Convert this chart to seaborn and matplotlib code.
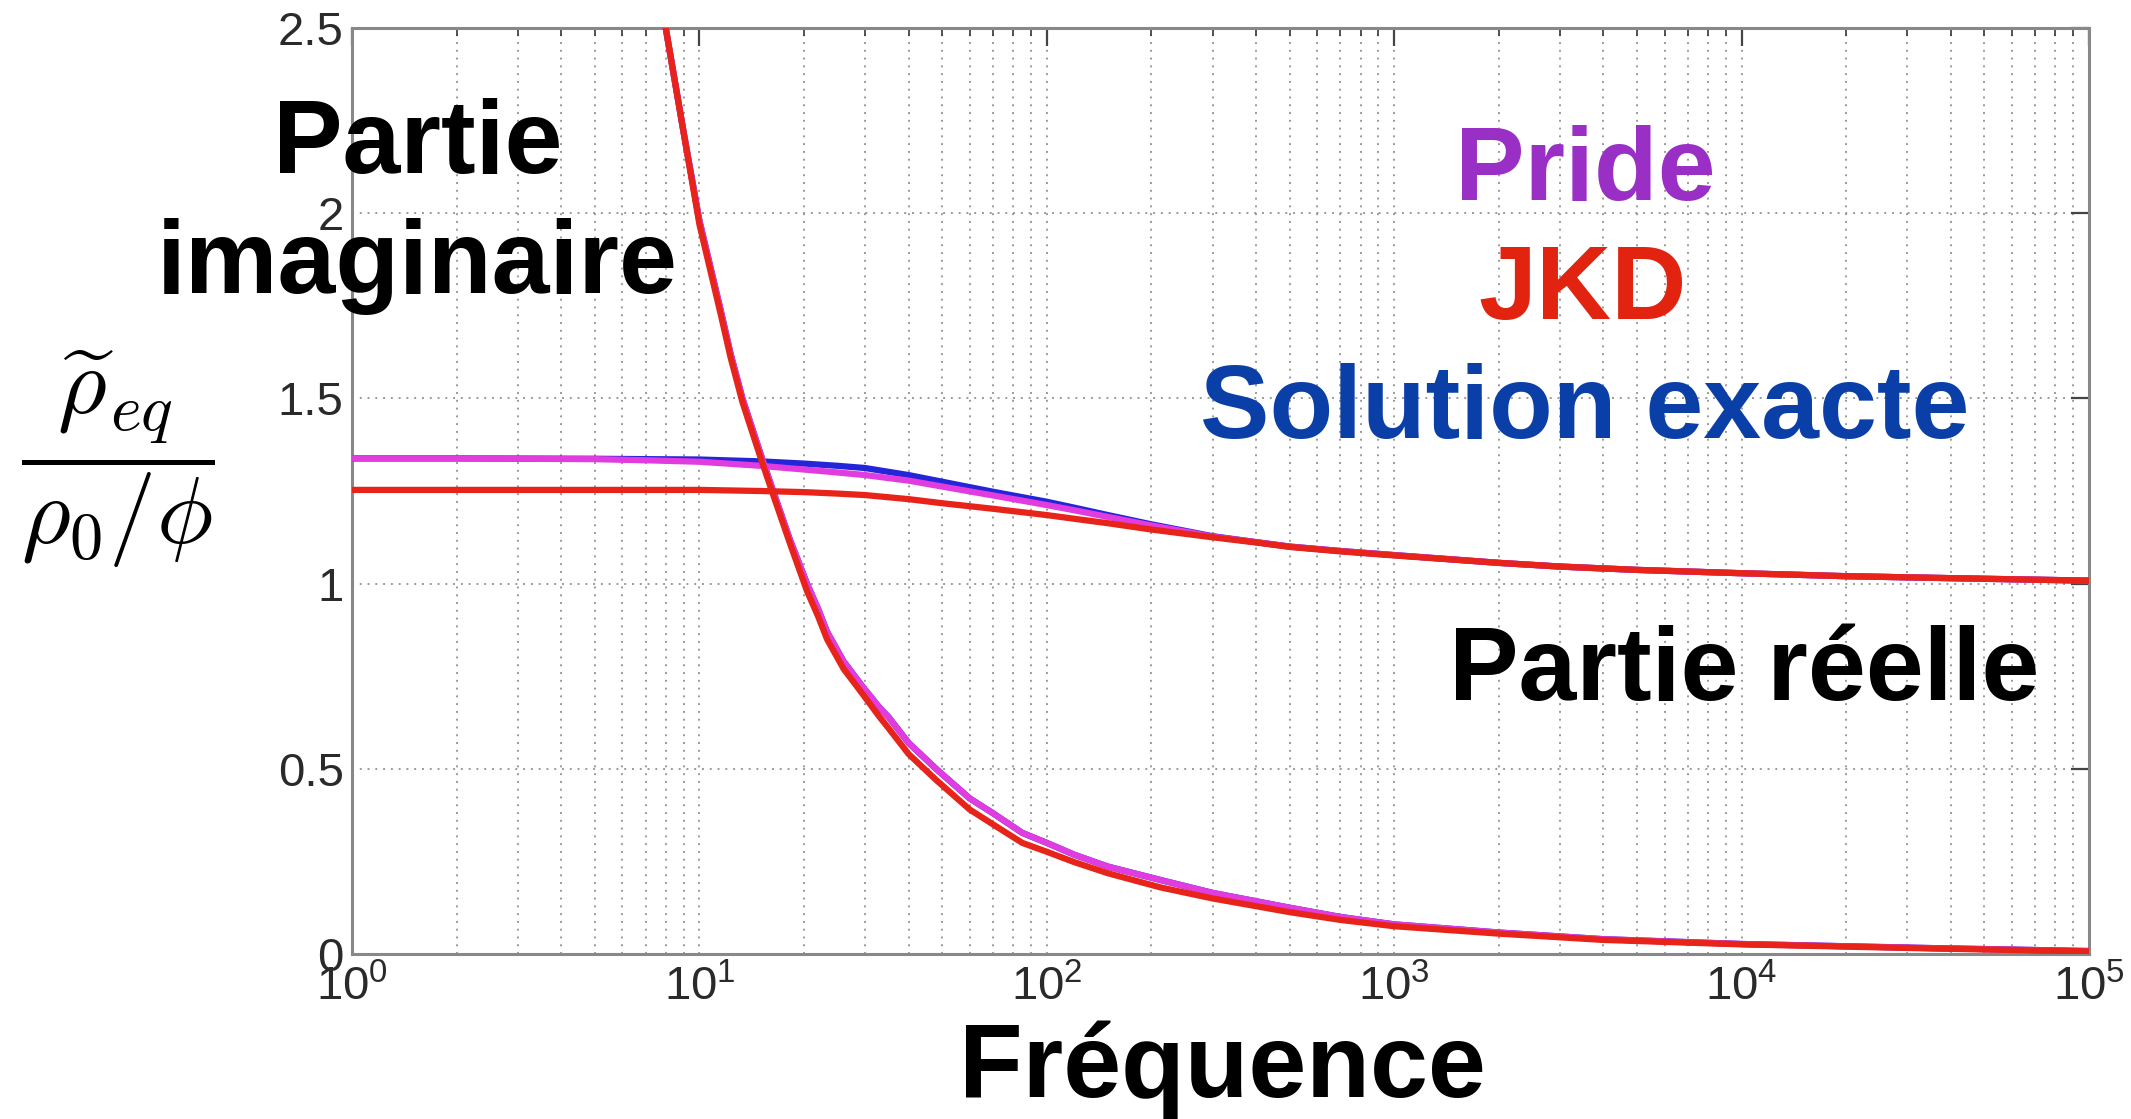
import numpy as np
import pandas as pd
import matplotlib
matplotlib.use("Agg")
import matplotlib.pyplot as plt
import seaborn as sns
from matplotlib.ticker import FixedLocator, FixedFormatter, LogLocator, NullFormatter

# ---------------- data ----------------
freq_re = [1, 2, 5, 7, 10, 15, 20, 25, 30, 40, 50, 70, 100, 120, 150, 200, 300, 400,
           500, 700, 1000, 2000, 3000, 5000, 1e4, 2e4, 5e4, 1e5]
re_exact = [1.338, 1.338, 1.337, 1.336, 1.335, 1.330, 1.324, 1.318, 1.312, 1.293,
            1.275, 1.248, 1.221, 1.205, 1.185, 1.160, 1.128, 1.112, 1.100, 1.088,
            1.077, 1.056, 1.046, 1.037, 1.028, 1.020, 1.013, 1.008]
re_pride = [1.338, 1.338, 1.336, 1.333, 1.329, 1.318, 1.308, 1.300, 1.293, 1.278,
            1.262, 1.238, 1.212, 1.198, 1.180, 1.157, 1.127, 1.112, 1.100, 1.088,
            1.077, 1.056, 1.046, 1.037, 1.028, 1.020, 1.013, 1.008]
re_jkd = [1.253, 1.253, 1.253, 1.253, 1.253, 1.250, 1.247, 1.243, 1.239, 1.228,
          1.217, 1.202, 1.185, 1.175, 1.163, 1.146, 1.125, 1.111, 1.099, 1.087,
          1.076, 1.056, 1.046, 1.037, 1.028, 1.020, 1.013, 1.008]

freq_im = [6, 7, 8, 9, 10, 11.5, 12.3, 13.3, 15, 16.3, 18.2, 20.4, 22, 23.3, 26,
           29.6, 33, 35, 40, 48, 60, 70, 85, 100, 120, 150, 212, 300, 500, 700,
           1000, 2000, 4000, 1e4, 3.5e4, 1e5]
im_exact = [3.40, 2.90, 2.50, 2.22, 1.98, 1.74, 1.62, 1.50, 1.35, 1.25, 1.12, 1.00,
            0.93, 0.87, 0.79, 0.72, 0.665, 0.64, 0.57, 0.50, 0.42, 0.38, 0.327,
            0.300, 0.268, 0.236, 0.200, 0.165, 0.125, 0.100, 0.080, 0.058, 0.040,
            0.027, 0.016, 0.008]
im_pride = [3.40, 2.90, 2.50, 2.22, 1.98, 1.74, 1.62, 1.50, 1.35, 1.25, 1.12, 1.00,
            0.93, 0.87, 0.79, 0.72, 0.665, 0.64, 0.57, 0.50, 0.42, 0.38, 0.327,
            0.300, 0.268, 0.236, 0.200, 0.165, 0.125, 0.100, 0.080, 0.058, 0.040,
            0.027, 0.016, 0.008]
im_jkd = [3.40, 2.90, 2.50, 2.22, 1.97, 1.73, 1.61, 1.49, 1.34, 1.24, 1.11, 0.98,
          0.91, 0.85, 0.77, 0.70, 0.64, 0.61, 0.54, 0.47, 0.39, 0.35, 0.300,
          0.276, 0.248, 0.218, 0.180, 0.150, 0.113, 0.092, 0.075, 0.055, 0.038,
          0.026, 0.015, 0.007]

y_ticks = [0, 0.5, 1, 1.5, 2, 2.5]
y_tick_labels = ["0", "0.5", "1", "1.5", "2", "2.5"]
x_ticks = [1, 10, 100, 1e3, 1e4, 1e5]
x_tick_labels = [r"$\mathregular{10^{%d}}$" % i for i in range(6)]

series_names = ["Solution exacte", "Pride", "JKD"]
series_colors = ["#2424d8", "#e03ce0", "#e8231a"]
text_colors = {"Pride": "#9a2fc6", "JKD": "#e1230f", "Solution exacte": "#0b3fa8"}

# ---------------- style ----------------
sns.set_style("white")
plt.rcParams["font.family"] = ["Liberation Sans", "DejaVu Sans"]
plt.rcParams["mathtext.fontset"] = "custom"
plt.rcParams["mathtext.rm"] = "Liberation Sans"
plt.rcParams["mathtext.it"] = "Liberation Sans:italic"

W, H = 2131, 1119
fig = plt.figure(figsize=(W / 100, H / 100), dpi=100)
ax = fig.add_axes([352 / W, 1 - 954 / H, (2089 - 352) / W, (954 - 28) / H])

df_re = pd.DataFrame({"f": freq_re * 3,
                      "v": re_exact + re_pride + re_jkd,
                      "model": sum([[n] * len(freq_re) for n in series_names], [])})
df_im = pd.DataFrame({"f": freq_im * 3,
                      "v": im_exact + im_pride + im_jkd,
                      "model": sum([[n] * len(freq_im) for n in series_names], [])})

for name, col in zip(series_names, series_colors):
    sns.lineplot(data=df_re[df_re.model == name], x="f", y="v", color=col,
                 linewidth=4.5, ax=ax, legend=False, zorder=3)
    sns.lineplot(data=df_im[df_im.model == name], x="f", y="v", color=col,
                 linewidth=4.5, ax=ax, legend=False, zorder=3)

ax.set_xscale("log")
ax.set_xlim(1, 1e5)
ax.set_ylim(0, 2.5)
ax.set_xlabel("")
ax.set_ylabel("")

ax.xaxis.set_major_locator(FixedLocator(x_ticks))
ax.xaxis.set_major_formatter(FixedFormatter(x_tick_labels))
ax.xaxis.set_minor_locator(LogLocator(base=10, subs=np.arange(2, 10), numticks=20))
ax.xaxis.set_minor_formatter(NullFormatter())
ax.yaxis.set_major_locator(FixedLocator(y_ticks))
ax.yaxis.set_major_formatter(FixedFormatter(y_tick_labels))

ax.tick_params(axis="both", which="major", direction="in", length=13, width=1.6,
               color="#444444", labelsize=34, labelcolor="#2a2a2a",
               top=True, right=True, pad=6)
ax.tick_params(axis="x", which="minor", direction="in", length=6, width=1.3,
               color="#444444", top=True)
ax.tick_params(axis="x", which="major", pad=8)

ax.grid(True, which="major", axis="both", linestyle=(0, (1, 3)), color="#9a9a9a", linewidth=1.4)
ax.grid(True, which="minor", axis="x", linestyle=(0, (1, 3)), color="#9a9a9a", linewidth=1.4)
ax.set_axisbelow(True)
for s in ax.spines.values():
    s.set_color("#888888")
    s.set_linewidth(2.2)
    s.set_visible(True)

# ---------------- annotations ----------------
def fx(px):
    return px / W

def fy(py):
    return 1 - py / H

big = dict(fontsize=75, fontweight="bold", ha="center", va="baseline")
fig.text(fx(418), fy(173), "Partie", color="black", **big)
fig.text(fx(417), fy(293), "imaginaire", color="black", **big)
fig.text(fx(1585), fy(200), "Pride", color=text_colors["Pride"], **big)
fig.text(fx(1583), fy(319), "JKD", color=text_colors["JKD"], **big)
fig.text(fx(1585), fy(438), "Solution exacte", color=text_colors["Solution exacte"], **big)
fig.text(fx(1744), fy(700), "Partie réelle", color="black", **big)
fig.text(fx(1222), fy(1097), "Fréquence", color="black", **big)

fig.text(fx(118), fy(459), r"$\dfrac{\widetilde{\rho}_{eq}}{\rho_0/\phi}$",
         fontsize=68, ha="center", va="center", math_fontfamily="cm", color="black")

fig.savefig("out.png", dpi=100)
